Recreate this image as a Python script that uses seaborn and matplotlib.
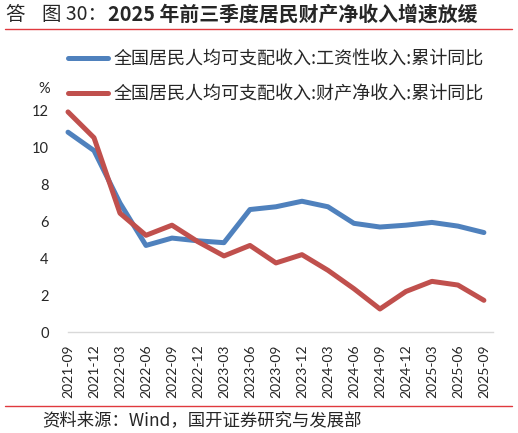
import matplotlib
matplotlib.use("Agg")
import matplotlib.pyplot as plt
import seaborn as sns
import pandas as pd
from matplotlib.lines import Line2D

quarters = ["2021-09", "2021-12", "2022-03", "2022-06", "2022-09", "2022-12",
            "2023-03", "2023-06", "2023-09", "2023-12", "2024-03", "2024-06",
            "2024-09", "2024-12", "2025-03", "2025-06", "2025-09"]
wage = [10.85, 9.85, 7.0, 4.7, 5.1, 4.95, 4.85, 6.65, 6.8, 7.1, 6.8, 5.9,
        5.7, 5.8, 5.95, 5.75, 5.4]
prop = [11.95, 10.55, 6.45, 5.25, 5.8, 4.9, 4.13, 4.7, 3.75, 4.2, 3.35, 2.35,
        1.25, 2.2, 2.75, 2.55, 1.72]
names = ["全国居民人均可支配收入:工资性收入:累计同比",
         "全国居民人均可支配收入:财产净收入:累计同比"]
colors = ["#4f81bd", "#c0504d"]

df = pd.DataFrame({
    "pos": list(range(len(quarters))) * 2,
    "value": wage + prop,
    "series": [names[0]] * len(wage) + [names[1]] * len(prop),
})

sns.set_style("white")
plt.rcParams['font.family'] = ['Lato', 'Noto Sans CJK SC', 'DejaVu Sans']

W, H = 518, 433
fig = plt.figure(figsize=(W / 100, H / 100), dpi=100)
ax = fig.add_axes([68 / W, 1 - 332 / H, (493 - 68) / W, (332 - 111) / H])

sns.lineplot(data=df, x="pos", y="value", hue="series", palette=colors,
             linewidth=3.6, ax=ax, legend=False, clip_on=False,
             solid_capstyle="round", solid_joinstyle="round")

ax.set_xlim(0, 16.35)
ax.set_ylim(0, 12)
ax.set_xticks(range(len(quarters)))
ax.set_xticklabels(quarters, rotation=90, fontsize=10)
ax.set_yticks(range(0, 13, 2))
ax.tick_params(axis="y", length=0, pad=14, labelsize=10.5)
ax.tick_params(axis="x", length=5, color="#d9d9d9", pad=4)
ax.set_xlabel("")
ax.set_ylabel("")
for s in ["top", "right", "left"]:
    ax.spines[s].set_visible(False)
ax.spines["bottom"].set_color("#d9d9d9")
ax.spines["bottom"].set_linewidth(1)

handles = [Line2D([], [], color=c, lw=3.6, solid_capstyle="round") for c in colors]
ax.legend(handles, names, loc="upper left", bbox_to_anchor=(52 / W, 1 - 34 / H),
          bbox_transform=fig.transFigure, frameon=False,
          handlelength=2.2, handletextpad=0.3, labelspacing=0.95,
          prop={"family": ["Noto Sans CJK SC", "DejaVu Sans"], "size": 13})

fig.text(44 / W, 1 - 89 / H, "%", ha="center", va="center", fontsize=10.5)

# header and footer
fig.text(5 / W, 1 - 14 / H, "答", ha="left", va="center", fontsize=14,
         family=["Noto Sans CJK SC", "DejaVu Sans"])
fig.text(42 / W, 1 - 14 / H, "图 30：", ha="left", va="center", fontsize=14,
         family=["Noto Sans CJK SC", "DejaVu Sans"])
fig.text(108 / W, 1 - 14 / H, "2025 年前三季度居民财产净收入增速放缓", ha="left",
         va="center", fontsize=14.3, fontweight="bold",
         family=["Noto Sans CJK SC", "DejaVu Sans"])
fig.add_artist(Line2D([5 / W, 512 / W], [1 - 29 / H] * 2, color="#e0393e", lw=1))
fig.add_artist(Line2D([5 / W, 512 / W], [1 - 406 / H] * 2, color="#e0393e", lw=1))
fig.text(42 / W, 1 - 420 / H, "资料来源：Wind，国开证券研究与发展部", ha="left",
         va="center", fontsize=12.5, family=["Noto Sans CJK SC", "DejaVu Sans"])

fig.savefig("out.png", dpi=100)
